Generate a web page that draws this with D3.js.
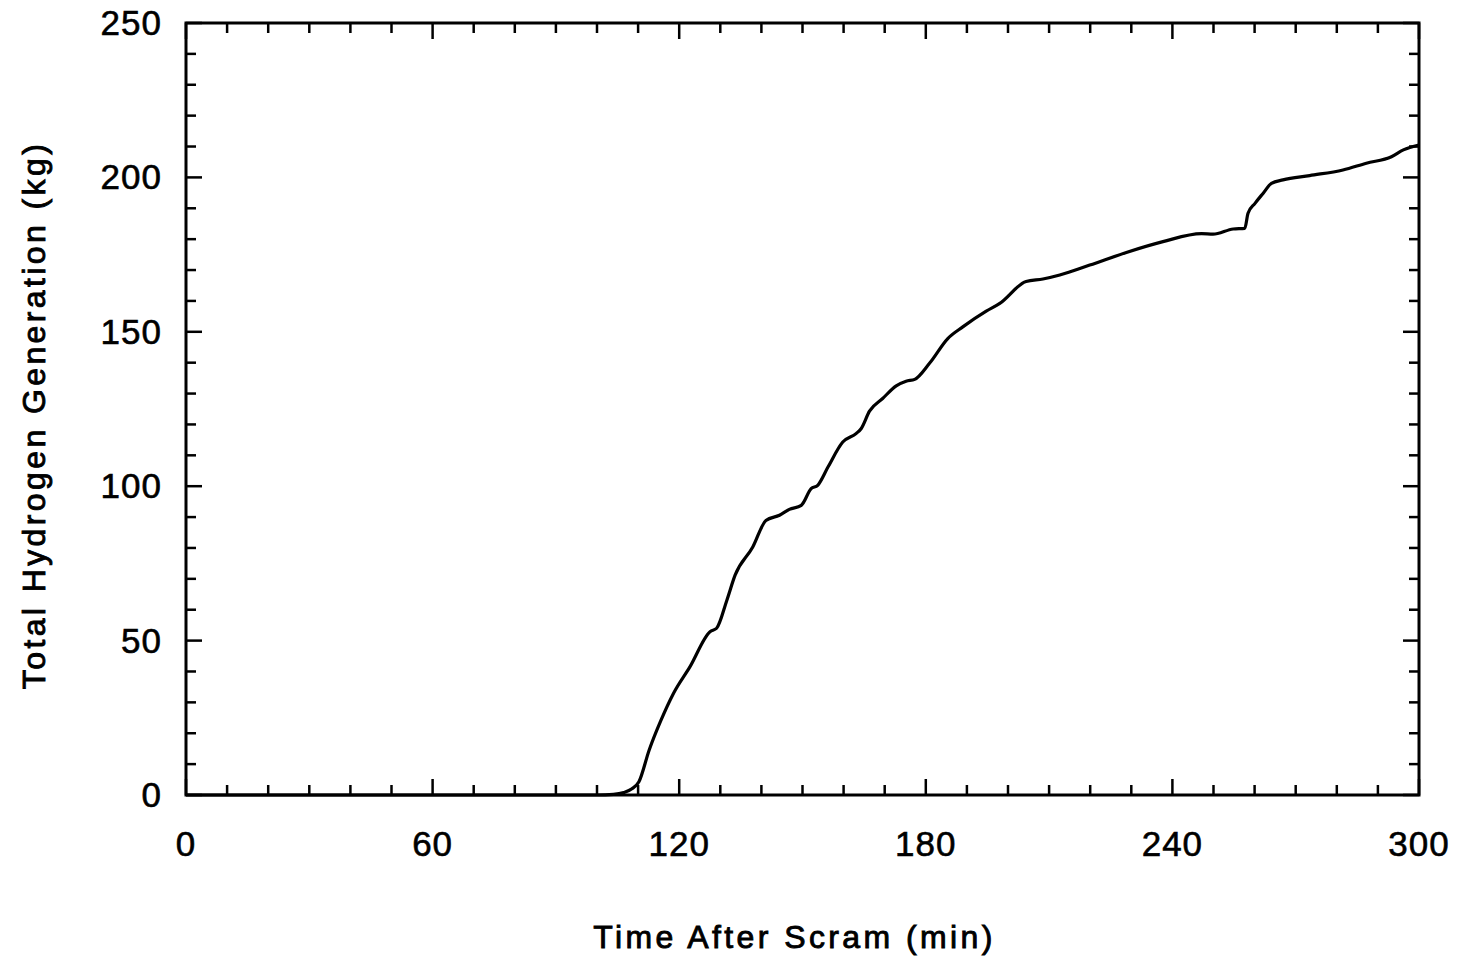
<!DOCTYPE html>
<html>
<head>
<meta charset="utf-8">
<script src="https://cdn.jsdelivr.net/npm/d3@7"></script>
<style>
  body { margin: 0; background: #fff; }
  text { font-family: "Liberation Sans", Arial, sans-serif; fill: #000; }
</style>
</head>
<body>
<script>
// time after scram (min) and total hydrogen (kg)
const times = [0, 100, 104, 106.5, 108.5, 110.2, 112.7, 115.5, 118.6, 122.6, 127.5, 129.1, 131.6, 133.6, 137.9,
  141.1, 144.4, 146.8, 149.7, 152.1, 153.7, 156.2, 159.8, 163.1, 164.3, 166.3, 169.5, 172.8, 175.2, 177.3,
  180.9, 185.4, 189, 194.7, 198, 204.4, 208.5, 212.6, 219.9, 228.8, 237.7, 247.1, 249.9, 254.8, 257.6,
  258.4, 260.1, 262.1, 264.1, 266.9, 273.4, 281.5, 287.2, 293.3, 296.2, 300];
const hydrogen = [0, 0, 0.2, 0.8, 2, 4.3, 14.6, 24, 32.9, 41.5, 52.9, 54, 63.1, 71.2, 80.3,
  88.9, 90.6, 92.5, 93.8, 99.2, 100.3, 106.2, 114.3, 117.1, 118.7, 124.3, 128.4, 132.5, 134, 134.6,
  139.8, 147.9, 151.6, 156.7, 159.2, 166.3, 167.1, 168.4, 171.6, 175.7, 179.2, 181.8, 181.6, 183.3, 183.5,
  188.4, 191.6, 194.9, 198.1, 199.2, 200.6, 202.4, 204.6, 206.7, 208.9, 210.5];

const xTicks = [0, 60, 120, 180, 240, 300];
const yTicks = [0, 50, 100, 150, 200, 250];
const xTitle = 'Time After Scram (min)';
const yTitle = 'Total Hydrogen Generation (kg)';

const width = 1459, height = 958;
const margin = { top: 23, right: 40, bottom: 163, left: 186 };
const w = width - margin.left - margin.right;
const h = height - margin.top - margin.bottom;

const svg = d3.select('body').append('svg')
  .attr('width', width)
  .attr('height', height);

const g = svg.append('g')
  .attr('transform', 'translate(' + margin.left + ' ' + margin.top + ')');

const x = d3.scaleLinear().domain([0, 300]).range([0, w]);
const y = d3.scaleLinear().domain([0, 250]).range([h, 0]);

const minorX = d3.range(0, 301, 10);
const minorY = d3.range(0, 251, 10);

// ticks point inwards on all four sides, longer at labelled values
function tickLen(v, step) { return v % step === 0 ? 16 : 10; }

g.append('g').selectAll('line').data(minorX).enter().append('line')
  .attr('x1', d => x(d)).attr('x2', d => x(d))
  .attr('y1', h).attr('y2', d => h - tickLen(d, 60))
  .attr('stroke', '#000').attr('stroke-width', 2.5);
g.append('g').selectAll('line').data(minorX).enter().append('line')
  .attr('x1', d => x(d)).attr('x2', d => x(d))
  .attr('y1', 0).attr('y2', d => tickLen(d, 60))
  .attr('stroke', '#000').attr('stroke-width', 2.5);
g.append('g').selectAll('line').data(minorY).enter().append('line')
  .attr('y1', d => y(d)).attr('y2', d => y(d))
  .attr('x1', 0).attr('x2', d => tickLen(d, 50))
  .attr('stroke', '#000').attr('stroke-width', 2.5);
g.append('g').selectAll('line').data(minorY).enter().append('line')
  .attr('y1', d => y(d)).attr('y2', d => y(d))
  .attr('x1', w).attr('x2', d => w - tickLen(d, 50))
  .attr('stroke', '#000').attr('stroke-width', 2.5);

g.append('rect')
  .attr('width', w).attr('height', h)
  .attr('fill', 'none').attr('stroke', '#000').attr('stroke-width', 3);

// tick labels
g.append('g').selectAll('text').data(xTicks).enter().append('text')
  .attr('x', d => x(d)).attr('y', h + 61)
  .attr('text-anchor', 'middle')
  .style('font-size', '35px')
  .style('letter-spacing', '1px')
  .style('stroke', '#000').style('stroke-width', 0.6)
  .text(d => d);
g.append('g').selectAll('text').data(yTicks).enter().append('text')
  .attr('x', -24).attr('y', d => y(d) + 12)
  .attr('text-anchor', 'end')
  .style('font-size', '35px')
  .style('letter-spacing', '1px')
  .style('stroke', '#000').style('stroke-width', 0.6)
  .text(d => d);

const line = d3.line()
  .x((d, i) => x(times[i]))
  .y(d => y(d))
  .curve(d3.curveMonotoneX);

g.append('path')
  .datum(hydrogen)
  .attr('d', line)
  .attr('fill', 'none')
  .attr('stroke', '#000')
  .attr('stroke-width', 3.2)
  .attr('stroke-linejoin', 'round');

// axis titles
svg.append('text')
  .attr('x', margin.left + w / 2 - 8).attr('y', 948)
  .attr('text-anchor', 'middle')
  .style('font-size', '32px')
  .style('letter-spacing', '3.4px')
  .style('stroke', '#000').style('stroke-width', 0.9)
  .text(xTitle);

svg.append('text')
  .attr('transform', 'translate(45 ' + 415 + ') rotate(-90)')
  .attr('text-anchor', 'middle')
  .style('font-size', '32px')
  .style('letter-spacing', '3.4px')
  .style('stroke', '#000').style('stroke-width', 0.9)
  .text(yTitle);
</script>
</body>
</html>
